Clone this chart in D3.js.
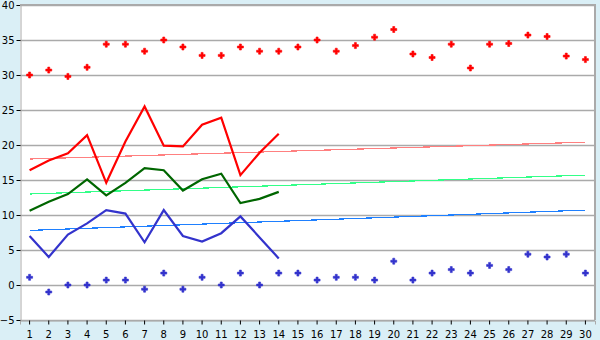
<!DOCTYPE html>
<html><head><meta charset="utf-8">
<script src="https://cdn.jsdelivr.net/npm/d3@7"></script>
<style>
html,body{margin:0;padding:0;background:#daeff6;}
svg{display:block;}
text{font-family:"DejaVu Sans",Verdana,sans-serif;font-size:10px;fill:#000;}
</style></head><body>
<svg id="c" width="600" height="340"></svg>
<script>
const days = d3.range(1, 31);
const yTicks = [-5, 0, 5, 10, 15, 20, 25, 30, 35, 40];
const maxPoints = [30.0,30.7,29.8,31.1,34.4,34.4,33.4,35.0,34.0,32.8,32.8,34.0,33.4,33.4,34.0,35.0,33.4,34.2,35.4,36.5,33.0,32.5,34.4,31.0,34.4,34.5,35.7,35.5,32.7,32.2];
const minPoints = [1.1,-1.0,0.0,0.0,0.7,0.7,-0.6,1.7,-0.6,1.1,0.0,1.7,0.0,1.7,1.7,0.7,1.1,1.1,0.7,3.4,0.7,1.7,2.2,1.7,2.8,2.2,4.4,4.0,4.4,1.7];
const redLine = [16.4,17.8,18.8,21.4,14.6,20.5,25.5,19.9,19.8,22.9,23.9,15.7,18.9,21.6];
const greenLine = [10.6,11.9,13.0,15.1,12.8,14.6,16.7,16.4,13.5,15.1,15.9,11.7,12.3,13.3];
const blueLine = [7.0,4.0,7.2,8.8,10.7,10.2,6.1,10.7,7.0,6.2,7.4,9.8,6.8,3.8];
const redTrend = [18.0, 20.4];
const greenTrend = [13.0, 15.7];
const blueTrend = [7.8, 10.7];

const svg = d3.select("#c");
const L = 20, R = 595, T = 5, B = 320;
const x = d3.scaleBand().domain(days).range([L, R]);
const xc = d => x(d) + x.bandwidth() / 2;
const y = d3.scaleLinear().domain([-5, 40]).range([B, T]);

svg.append("rect").attr("x", L).attr("y", T).attr("width", R - L).attr("height", B - T).attr("fill", "#fff");

// gridlines
svg.append("g").selectAll("line").data(yTicks).join("line")
  .attr("x1", L).attr("x2", R).attr("y1", d => Math.round(y(d)) + 0.5).attr("y2", d => Math.round(y(d)) + 0.5)
  .attr("stroke", "#aaaaaa").attr("stroke-width", 1.3);

// y axis
const ya = svg.append("g").attr("transform", `translate(${L + 0.5},0)`)
  .call(d3.axisLeft(y).tickValues(yTicks).tickSize(4).tickPadding(2).tickFormat(d3.format("d")));
ya.select(".domain").attr("stroke", "#aaaaaa");
ya.selectAll(".tick line").attr("stroke", "#000");
ya.selectAll("text").attr("font-family", null).attr("font-size", null);

// x axis
const xa = svg.append("g").attr("transform", `translate(0,${B + 0.5})`)
  .call(d3.axisBottom(x).tickSize(4).tickPadding(6));
xa.select(".domain").attr("stroke", "#aaaaaa");
xa.selectAll(".tick line").attr("stroke", "#000");
xa.selectAll("text").attr("font-family", null).attr("font-size", null);

// border top/right
svg.append("path").attr("d", `M${L},${T} H${R} V${B}`).attr("fill", "none").attr("stroke", "#aaaaaa").attr("stroke-width", 2);

// trend lines
function trend(vals, color) {
  svg.append("line").attr("x1", xc(1)).attr("x2", xc(30))
    .attr("y1", y(vals[0])).attr("y2", y(vals[1]))
    .attr("stroke", color).attr("stroke-width", 1.2).attr("shape-rendering", "crispEdges");
}
trend(redTrend, "#ff8080");
trend(greenTrend, "#33ff88");
trend(blueTrend, "#1f80ff");

// lines
const line = d3.line().x((d, i) => xc(i + 1)).y(d => y(d));
function series(vals, color) {
  svg.append("path").datum(vals).attr("d", line).attr("fill", "none")
    .attr("stroke", color).attr("stroke-width", 2.2).attr("stroke-linejoin", "miter");
}
series(redLine, "#ff0000");
series(greenLine, "#006600");
series(blueLine, "#3333cc");

// markers (small plus/diamond)
const mk = "M-1,-3H1V-1H3V1H1V3H-1V1H-3V-1H-1Z";
function markers(vals, color) {
  svg.append("g").selectAll("path").data(vals).join("path")
    .attr("d", mk).attr("fill", color).attr("stroke", color).attr("stroke-width", 0.6)
    .attr("transform", (d, i) => `translate(${xc(i + 1)},${y(d)})`);
}
markers(maxPoints, "#ff0000");
markers(minPoints, "#3333cc");
</script></body></html>
